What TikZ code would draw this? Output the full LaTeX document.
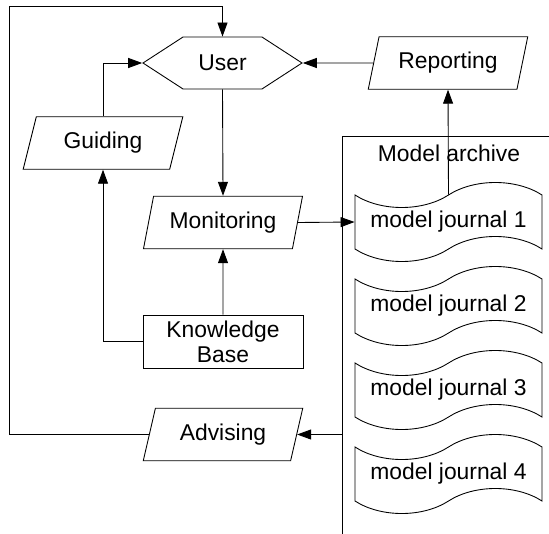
\documentclass[tikz,border=0pt]{standalone}
\usepackage{fontspec}
\setmainfont{Liberation Sans}
\usetikzlibrary{positioning, arrows.meta, shapes.geometric, shapes.symbols}

\begin{document}
\begin{tikzpicture}[
    line width=0.5pt,
    every node/.style={font=\fontsize{13}{14.2}\selectfont},
    hexa/.style={
        signal, signal to=west and east, signal pointer angle=66,
        draw, inner sep=0pt, minimum width=3.18cm, minimum height=1.04cm
    },
    para/.style={
        trapezium, trapezium left angle=70, trapezium right angle=110,
        trapezium stretches=true, draw, inner sep=0pt,
        minimum width=3.2cm, minimum height=1.05cm
    },
    kbox/.style={
        draw, align=center, inner sep=0pt, minimum width=3.2cm, minimum height=1.06cm
    },
    journal/.style={
        tape, draw, inner sep=0pt, tape bend height=0.5cm,
        minimum width=3.74cm, minimum height=1.58cm
    },
    arr/.style={
        -{Triangle[length=0.28cm, width=0.2cm]}
    }
]

\useasboundingbox (0,0) rectangle (10.98,-10.66);
\clip (0,0) rectangle (10.98,-10.66);

% Model archive (runs off the page)
\node[draw, anchor=north west, minimum width=5cm, minimum height=9cm] (arch) at (6.84,-2.72) {};
\node (archlbl) at (8.98,-3.06) {Model archive};

\foreach \i in {1,...,4}
    \node[journal] (j\i) at (8.97,{-4.44-1.68*(\i-1)}) {model journal \i};

% Left column
\node[hexa] (user) at (4.45,-1.26) {User};
\node[para] (guid) at (2.06,-2.86) {Guiding};
\node[para] (mon) at (4.46,-4.45) {Monitoring};
\node[kbox] (kb) at (4.46,-6.83) {Knowledge\\Base};
\node[para] (adv) at (4.46,-8.69) {Advising};
\node[para] (rep) at (8.96,-1.26) {Reporting};

\coordinate (corner) at (0.19,-0.12);

% Connectors
\draw[arr] (adv.west) -| (corner) -| (user.north);
\draw[arr] (guid.north) |- (user.west);
\draw[arr] (kb.west) -| (guid.south);
\draw[arr] (user.south) -- (mon.north);
\draw[arr] (kb.north) -- (mon.south);
\draw[arr] (mon.east) -- (j1.west);
\draw[arr] (j1.north) -- (rep.south);
\draw[arr] (rep.west) -- (user.east);
\draw[arr] (adv.east -| arch.west) -- (adv.east);

\end{tikzpicture}
\end{document}
